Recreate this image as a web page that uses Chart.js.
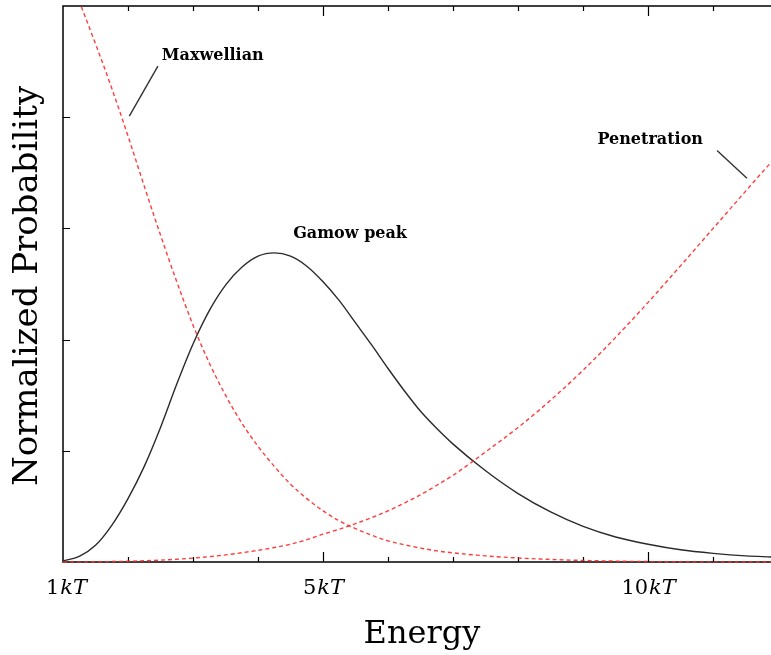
<!DOCTYPE html>
<html>
<head>
<meta charset="utf-8">
<script src="https://cdn.jsdelivr.net/npm/chart.js@4.4.1/dist/chart.umd.min.js"></script>
<style>
    html, body { margin: 0; padding: 0; background: #fff; }
    #wrap { width: 771px; height: 655px; }
</style>
</head>
<body>
<div id="wrap"><canvas id="grafico" width="771" height="655"></canvas></div>
<script>
// energy in units of kT
const energies = [1, 1.25, 1.5, 1.75, 2, 2.25, 2.5, 2.75, 3, 3.25, 3.5, 3.75, 4, 4.25, 4.5, 4.75,
    5, 5.25, 5.5, 5.75, 6, 6.25, 6.5, 6.75, 7, 7.5, 8, 8.5, 9, 9.5, 10, 10.5, 11, 11.5, 11.9];

const maxwellian = [5.4, 5.04, 4.66, 4.26, 3.83, 3.38, 2.94, 2.52, 2.13, 1.79, 1.5, 1.25, 1.04, 0.86, 0.7, 0.57,
    0.46, 0.37, 0.3, 0.24, 0.19, 0.155, 0.125, 0.1, 0.082, 0.055, 0.036, 0.023, 0.014, 0.008, 0.004, 0.002, 0.001, 0, 0];

const gamowPeak = [0.01, 0.05, 0.15, 0.33, 0.57, 0.86, 1.21, 1.6, 1.96, 2.26, 2.49, 2.65, 2.75, 2.78, 2.75, 2.66,
    2.52, 2.35, 2.15, 1.95, 1.74, 1.54, 1.355, 1.2, 1.06, 0.82, 0.615, 0.45, 0.32, 0.225, 0.16, 0.11, 0.078, 0.055, 0.045];

const penetration = [0, 0.001, 0.002, 0.004, 0.007, 0.011, 0.017, 0.025, 0.035, 0.048, 0.064, 0.083, 0.105, 0.13, 0.16, 0.2,
    0.25, 0.295, 0.345, 0.4, 0.46, 0.53, 0.605, 0.69, 0.78, 0.99, 1.21, 1.455, 1.725, 2.02, 2.335, 2.665, 3.0, 3.335, 3.6];

const energyTicks = [2, 3, 4, 5, 6, 7, 8, 9, 10, 11];
const energyMajorTicks = [5, 10];
const energyLabelValues = [1, 5, 10];
const energyLabels = ["1", "5", "10"];
const probabilityTicks = [1, 2, 3, 4];

const serif = "'DejaVu Serif', serif";

// labels placed in data units, pointers go from label to curve
const notes = [
    { text: "Maxwellian", e: 2.52, p: 4.55, from: [2.46, 4.46], to: [2.02, 4.01] },
    { text: "Gamow peak", e: 4.54, p: 2.95 },
    { text: "Penetration", e: 9.22, p: 3.80, from: [11.06, 3.70], to: [11.52, 3.45] }
];

const toPoints = values => energies.map((e, i) => ({ x: e, y: values[i] }));

const framePlugin = {
    id: "frame",
    beforeDatasetsDraw(chart) {
        const { ctx, chartArea: a, scales: { x, y } } = chart;
        ctx.save();
        ctx.strokeStyle = "#000";
        ctx.lineWidth = 1.5;
        ctx.beginPath();
        ctx.moveTo(a.right + 2, a.top);
        ctx.lineTo(a.left, a.top);
        ctx.lineTo(a.left, a.bottom);
        ctx.lineTo(a.right + 2, a.bottom);
        ctx.stroke();

        ctx.lineWidth = 1.2;
        ctx.beginPath();
        energyTicks.forEach(e => {
            const px = Math.round(x.getPixelForValue(e)) + 0.5;
            const len = energyMajorTicks.includes(e) ? 10 : 5;
            ctx.moveTo(px, a.bottom);
            ctx.lineTo(px, a.bottom - len);
            ctx.moveTo(px, a.top);
            ctx.lineTo(px, a.top + len);
        });
        probabilityTicks.forEach(p => {
            const py = Math.round(y.getPixelForValue(p)) + 0.5;
            ctx.moveTo(a.left, py);
            ctx.lineTo(a.left + 7, py);
        });
        ctx.stroke();
        ctx.restore();
    },
    afterDraw(chart) {
        const { ctx, chartArea: a, scales: { x, y } } = chart;
        ctx.save();
        ctx.fillStyle = "#000";
        ctx.textBaseline = "middle";

        // tick labels: upright number, italic kT
        energyLabelValues.forEach((e, i) => {
            ctx.font = `21px ${serif}`;
            const num = energyLabels[i];
            const wNum = ctx.measureText(num).width;
            ctx.font = `italic 21px ${serif}`;
            const wKt = ctx.measureText("kT").width;
            let left = x.getPixelForValue(e) - (wNum + wKt) / 2;
            if (i === 0) left += 3;
            ctx.font = `21px ${serif}`;
            ctx.textAlign = "left";
            ctx.fillText(num, left, a.bottom + 27);
            ctx.font = `italic 21px ${serif}`;
            ctx.fillText("kT", left + wNum + 1, a.bottom + 27);
        });

        ctx.textAlign = "center";
        ctx.font = `32px ${serif}`;
        ctx.fillText("Energy", (a.left + a.right) / 2 + 5, a.bottom + 73);

        ctx.save();
        ctx.translate(a.left - 35, (a.top + a.bottom) / 2 + 2);
        ctx.rotate(-Math.PI / 2);
        ctx.font = `34px ${serif}`;
        ctx.fillText("Normalized Probability", 0, 0);
        ctx.restore();

        ctx.textAlign = "left";
        ctx.font = `bold 16px ${serif}`;
        ctx.strokeStyle = "#333";
        ctx.lineWidth = 1.4;
        notes.forEach(n => {
            ctx.fillText(n.text, x.getPixelForValue(n.e), y.getPixelForValue(n.p));
            if (n.from) {
                ctx.beginPath();
                ctx.moveTo(x.getPixelForValue(n.from[0]), y.getPixelForValue(n.from[1]));
                ctx.lineTo(x.getPixelForValue(n.to[0]), y.getPixelForValue(n.to[1]));
                ctx.stroke();
            }
        });
        ctx.restore();
    }
};

const redDashed = {
    borderColor: "rgba(255, 40, 40, 0.9)",
    borderWidth: 1.4,
    borderDash: [4, 3],
    pointRadius: 0,
    cubicInterpolationMode: "monotone",
    clip: { left: 2, top: 0, right: 0, bottom: 3 }
};

new Chart(document.getElementById("grafico").getContext("2d"), {
    type: "line",
    data: {
        datasets: [
            { ...redDashed, label: "Maxwellian", data: toPoints(maxwellian) },
            { ...redDashed, label: "Penetration", data: toPoints(penetration) },
            {
                label: "Gamow peak",
                data: toPoints(gamowPeak),
                borderColor: "#2a2a2a",
                borderWidth: 1.4,
                pointRadius: 0,
                cubicInterpolationMode: "monotone",
                clip: { left: 2, top: 0, right: 0, bottom: 3 }
            }
        ]
    },
    options: {
        responsive: false,
        animation: false,
        devicePixelRatio: 1,
        layout: { padding: { left: 63, top: 6, right: 0, bottom: 93 } },
        plugins: { legend: { display: false }, tooltip: { enabled: false } },
        scales: {
            x: { type: "linear", display: false, min: 1, max: 11.89 },
            y: { type: "linear", display: false, min: 0, max: 5 }
        }
    },
    plugins: [framePlugin]
});
</script>
</body>
</html>
